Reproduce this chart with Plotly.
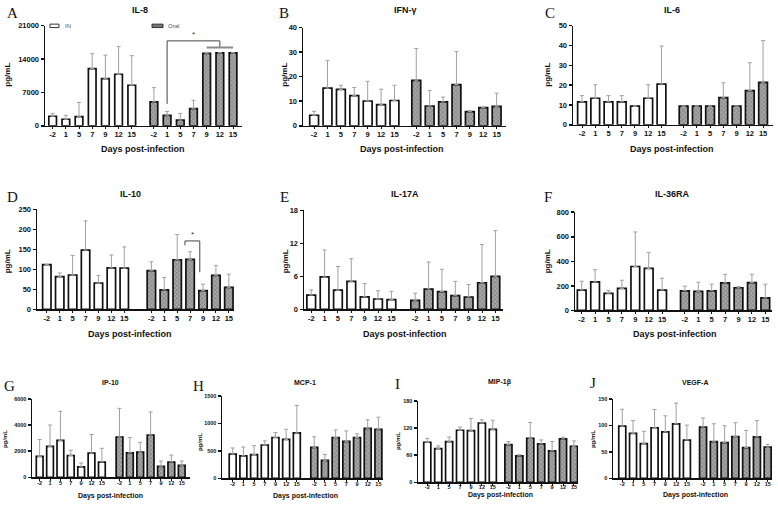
import plotly.graph_objects as go

W, H = 778, 506
days = ["-2", "1", "5", "7", "9", "12", "15"]

# ---- data (mean and SD) ----
il8_in = [2000, 1370, 1920, 12000, 9900, 10800, 8500]
il8_in_sd = [600, 830, 2980, 3100, 4900, 5800, 6200]
il8_oral = [5000, 2200, 1170, 3600, 15200, 15300, 15300]
il8_oral_sd = [3000, 800, 1430, 1750, 200, 0, 0]

ifng_in = [4.3, 15.3, 14.8, 12.3, 10.1, 8.6, 10.3]
ifng_in_sd = [1.6, 11.3, 1.7, 3.3, 8.0, 6.3, 6.2]
ifng_oral = [18.5, 8.05, 9.7, 16.8, 5.8, 7.4, 7.9]
ifng_oral_sd = [13.0, 6.35, 2.0, 13.4, 0.4, 0.25, 5.4]

il6_in = [11.6, 13.4, 11.6, 11.6, 9.4, 13.4, 20.5]
il6_in_sd = [3.1, 6.8, 3.1, 3.1, 0, 6.8, 19.2]
il6_oral = [9.4, 9.4, 9.4, 13.7, 9.4, 17.2, 21.4]
il6_oral_sd = [0, 0, 0, 7.5, 0, 14.1, 21.1]

il10_in = [112, 82, 86, 148, 66, 104, 103]
il10_in_sd = [0, 9, 49, 73, 19, 32, 53]
il10_oral = [97, 49, 124, 125, 47, 85, 55]
il10_oral_sd = [22, 31, 63, 19, 16, 25, 33]

il17a_in = [2.6, 5.9, 3.5, 5.1, 2.3, 1.9, 1.8]
il17a_in_sd = [0.95, 4.9, 4.3, 4.1, 2.4, 1.5, 1.5]
il17a_oral = [1.65, 3.7, 3.25, 2.5, 2.25, 4.85, 6.0]
il17a_oral_sd = [1.3, 4.9, 4.05, 2.6, 2.3, 6.95, 8.3]

il36ra_in = [166, 233, 139, 179, 358, 342, 166]
il36ra_in_sd = [72, 99, 24, 67, 281, 131, 96]
il36ra_oral = [160, 155, 160, 225, 185, 227, 102]
il36ra_oral_sd = [38, 75, 54, 69, 10, 67, 112]

ip10_in = [1600, 2375, 2825, 1675, 800, 1850, 1175]
ip10_in_sd = [1300, 1625, 2225, 400, 300, 1425, 1050]
ip10_oral = [3075, 1875, 1925, 3225, 850, 1175, 925]
ip10_oral_sd = [2200, 1175, 750, 1775, 400, 525, 325]

mcp1_in = [440, 410, 434, 607, 744, 708, 827]
mcp1_in_sd = [113, 161, 161, 77, 89, 185, 500]
mcp1_oral = [565, 327, 744, 673, 744, 911, 893]
mcp1_oral_sd = [191, 108, 137, 190, 66, 154, 220]

mip1b_in = [88.5, 74.6, 90, 115, 114, 131, 117]
mip1b_in_sd = [8.1, 5.9, 10, 7, 27, 7, 20]
mip1b_oral = [83.4, 58.5, 97.3, 85, 69.5, 95.8, 79.7]
mip1b_oral_sd = [6.6, 3, 34.7, 8.6, 20.5, 3.7, 11.7]

vegfa_in = [98.6, 85, 65.5, 95.5, 87.6, 103, 72.3]
vegfa_in_sd = [31.8, 24, 23.3, 34.5, 30.4, 39, 28.1]
vegfa_oral = [96.8, 69.2, 67.4, 79, 58.2, 78.4, 58.8]
vegfa_oral_sd = [17.2, 33.8, 31.8, 26, 32.4, 30.6, 5.5]

# ---- panel layout (pixel boxes: left, right, zero-y, top-y) ----
panels = [
    dict(letter="A", title="IL-8", vin=il8_in, ein=il8_in_sd, vor=il8_oral, eor=il8_oral_sd,
         ymax=21000, dtick=7000, box=(45, 242, 124, 22), pl=.58, pr=.68, gap=1.68, bw=.58, big=True,
         tpos=(140, 6), lpos=(12, 9), ypos=(8, 72), dpos=(143, 148)),
    dict(letter="B", title="IFN-γ", vin=ifng_in, ein=ifng_in_sd, vor=ifng_oral, eor=ifng_oral_sd,
         ymax=40, dtick=10, box=(303, 506, 124, 24), pl=.83, pr=.7, gap=1.63, bw=.66, big=True,
         tpos=(405, 6), lpos=(284, 9), ypos=(285, 72), dpos=(402, 148)),
    dict(letter="C", title="IL-6", vin=il6_in, ein=il6_in_sd, vor=il6_oral, eor=il6_oral_sd,
         ymax=50, dtick=10, box=(573, 773, 123, 22), pl=.68, pr=.75, gap=1.67, bw=.66, big=True,
         tpos=(672, 6), lpos=(550, 9), ypos=(548, 72), dpos=(672, 148)),
    dict(letter="D", title="IL-10", vin=il10_in, ein=il10_in_sd, vor=il10_oral, eor=il10_oral_sd,
         ymax=250, dtick=50, box=(37, 234, 311, 209), pl=.76, pr=.4, gap=2.1, bw=.65, big=True,
         tpos=(130, 193), lpos=(12, 196), ypos=(7, 262), dpos=(130, 336)),
    dict(letter="E", title="IL-17A", vin=il17a_in, ein=il17a_in_sd, vor=il17a_oral, eor=il17a_oral_sd,
         ymax=18, dtick=6, box=(304, 503, 311, 210), pl=.54, pr=.57, gap=1.78, bw=.65, big=True,
         tpos=(405, 193), lpos=(284, 197), ypos=(285, 262), dpos=(405, 336)),
    dict(letter="F", title="IL-36RA", vin=il36ra_in, ein=il36ra_in_sd, vor=il36ra_oral, eor=il36ra_oral_sd,
         ymax=800, dtick=200, box=(575, 772, 312, 212), pl=.5, pr=.5, gap=1.7, bw=.65, big=True,
         tpos=(672, 193), lpos=(548, 197), ypos=(547, 262), dpos=(675, 336)),
    dict(letter="G", title="IP-10", vin=ip10_in, ein=ip10_in_sd, vor=ip10_oral, eor=ip10_oral_sd,
         ymax=6000, dtick=2000, box=(32, 190, 482, 402), pl=.74, pr=.8, gap=1.7, bw=.65, big=False,
         tpos=(110, 385), lpos=(9, 389), ypos=(5, 443), dpos=(110, 501)),
    dict(letter="H", title="MCP-1", vin=mcp1_in, ein=mcp1_in_sd, vor=mcp1_oral, eor=mcp1_oral_sd,
         ymax=1500, dtick=500, box=(222, 383, 483, 399), pl=1.0, pr=.43, gap=1.63, bw=.65, big=False,
         tpos=(305, 385), lpos=(199, 389), ypos=(200, 446), dpos=(305, 501)),
    dict(letter="I", title="MIP-1β", vin=mip1b_in, ein=mip1b_in_sd, vor=mip1b_oral, eor=mip1b_oral_sd,
         ymax=180, dtick=60, box=(418, 578, 487, 404), pl=.85, pr=.37, gap=1.43, bw=.65, big=False,
         tpos=(500, 385), lpos=(397, 387), ypos=(398, 445), dpos=(500, 500)),
    dict(letter="J", title="VEGF-A", vin=vegfa_in, ein=vegfa_in_sd, vor=vegfa_oral, eor=vegfa_oral_sd,
         ymax=150, dtick=50, box=(613, 772, 483, 402), pl=.86, pr=.4, gap=1.5, bw=.65, big=False,
         tpos=(695, 385), lpos=(593, 386), ypos=(593, 443), dpos=(695, 500)),
]

SANS = "Liberation Sans, Arial, sans-serif"
SERIF = "Liberation Serif, Times New Roman, serif"

fig = go.Figure()
layout = {}
annotations = []
shapes = []


def px_x(px):
    return px / W


def px_y(py):
    return 1 - py / H


positions = {}
for i, p in enumerate(panels, start=1):
    sfx = "" if i == 1 else str(i)
    xa, ya = "x" + sfx, "y" + sfx
    pos_in = list(range(len(days)))
    pos_or = [len(days) - 1 + p["gap"] + k for k in range(len(days))]
    positions[p["letter"]] = (pos_in, pos_or)
    fig.add_trace(go.Bar(
        x=pos_in, y=p["vin"], width=p["bw"], xaxis=xa, yaxis=ya, showlegend=False,
        marker=dict(color="white", line=dict(color="#111", width=1.7)),
        error_y=dict(type="data", array=p["ein"], arrayminus=[0] * 7, symmetric=False,
                     color="#a0a0a0", thickness=1, width=2)))
    fig.add_trace(go.Bar(
        x=pos_or, y=p["vor"], width=p["bw"], xaxis=xa, yaxis=ya, showlegend=False,
        marker=dict(color="#9a9a9a", line=dict(color="#111", width=1.7),
                    pattern=dict(shape="x", fgcolor="#3a3a3a", bgcolor="#a6a6a6", size=3, solidity=0.3)),
        error_y=dict(type="data", array=p["eor"], arrayminus=[0] * 7, symmetric=False,
                     color="#a0a0a0", thickness=1, width=2)))

    L, R, z, t = p["box"]
    fs = 7.5 if p["big"] else 5.5
    layout["xaxis" + sfx] = dict(
        domain=[px_x(L), px_x(R)], range=[-p["pl"], 2 * (len(days) - 1) + p["gap"] + p["pr"]],
        anchor=ya, tickvals=pos_in + pos_or, ticktext=days * 2, showline=True, linecolor="#111",
        linewidth=1.5, ticks="outside", ticklen=2, tickwidth=1, tickcolor="#111",
        ticklabelstandoff=-1 if p["big"] else -3,
        tickfont=dict(family=SANS, size=fs, color="#111", weight="bold"),
        showgrid=False, zeroline=False, fixedrange=True)
    layout["yaxis" + sfx] = dict(
        domain=[px_y(z), px_y(t)], range=[0, p["ymax"]], anchor=xa, tickformat="d",
        tickvals=list(range(0, p["ymax"] + 1, p["dtick"])), showline=True, linecolor="#111",
        linewidth=1.5, ticks="outside", ticklen=3, tickwidth=1.5, tickcolor="#111",
        tickfont=dict(family=SANS, size=fs, color="#111", weight="bold"),
        showgrid=False, zeroline=False, fixedrange=True)

    tfs = 9 if p["big"] else 7
    afs = 8 if p["big"] else 6
    dfs = 9 if p["big"] else 7
    annotations.append(dict(text=p["title"], x=px_x(p["tpos"][0]), y=px_y(p["tpos"][1]), xref="paper",
                            yref="paper", showarrow=False, xanchor="center", yanchor="middle",
                            font=dict(family=SANS, size=tfs, color="#111", weight="bold")))
    annotations.append(dict(text=p["letter"], x=px_x(p["lpos"][0]), y=px_y(p["lpos"][1]), xref="paper",
                            yref="paper", showarrow=False, xanchor="center", yanchor="middle",
                            font=dict(family=SERIF, size=15, color="#111")))
    annotations.append(dict(text="pg/mL", x=px_x(p["ypos"][0]), y=px_y(p["ypos"][1]), xref="paper",
                            yref="paper", showarrow=False, xanchor="center", yanchor="middle",
                            textangle=-90, font=dict(family=SANS, size=afs, color="#111", weight="bold")))
    annotations.append(dict(text="Days post-infection", x=px_x(p["dpos"][0]), y=px_y(p["dpos"][1]),
                            xref="paper", yref="paper", showarrow=False, xanchor="center",
                            yanchor="middle", font=dict(family=SANS, size=dfs, color="#111", weight="bold")))

# ---- legend in panel A ----
shapes.append(dict(type="rect", xref="paper", yref="paper", x0=px_x(50), x1=px_x(59), y0=px_y(24),
                   y1=px_y(20.5), fillcolor="white", line=dict(color="#333", width=1)))
shapes.append(dict(type="rect", xref="paper", yref="paper", x0=px_x(152), x1=px_x(163), y0=px_y(24),
                   y1=px_y(20.5), fillcolor="#777", line=dict(color="#333", width=1)))
annotations.append(dict(text="IN", x=px_x(63), y=px_y(22.5), xref="paper", yref="paper", showarrow=False,
                        xanchor="left", yanchor="middle", font=dict(family=SANS, size=6, color="#555")))
annotations.append(dict(text="Oral", x=px_x(166), y=px_y(22.5), xref="paper", yref="paper", showarrow=False,
                        xanchor="left", yanchor="middle", font=dict(family=SANS, size=6, color="#555")))

# ---- significance brackets ----
# Panel A: oral day 1 vs oral days 9-15
a_or = positions["A"][1]
a_low, a_top, a_leg = 4600, 17800, 16400
for seg in [(a_or[1], a_low, a_or[1], a_top), (a_or[1], a_top, a_or[5], a_top), (a_or[5], a_top, a_or[5], a_leg)]:
    shapes.append(dict(type="line", xref="x", yref="y", x0=seg[0], y0=seg[1], x1=seg[2], y1=seg[3],
                       line=dict(color="#444", width=1)))
shapes.append(dict(type="line", xref="x", yref="y", x0=a_or[4], x1=a_or[6], y0=a_leg, y1=a_leg,
                   line=dict(color="#8a8a8a", width=2)))
annotations.append(dict(text="*", x=(a_or[1] + a_or[5]) / 2, y=a_top, xref="x", yref="y", showarrow=False,
                        xanchor="center", yanchor="bottom", font=dict(family=SANS, size=8, color="#333")))

# Panel D: oral day 7 vs oral day 9
d_or = positions["D"][1]
dl, dr = d_or[3] - 0.4, d_or[4] - 0.25
d_top, d_lb, d_rb = 171, 160, 93
for seg in [(dl, d_lb, dl, d_top), (dl, d_top, dr, d_top), (dr, d_top, dr, d_rb)]:
    shapes.append(dict(type="line", xref="x4", yref="y4", x0=seg[0], y0=seg[1], x1=seg[2], y1=seg[3],
                       line=dict(color="#444", width=1)))
annotations.append(dict(text="*", x=(dl + dr) / 2, y=d_top, xref="x4", yref="y4", showarrow=False,
                        xanchor="center", yanchor="bottom", font=dict(family=SANS, size=8, color="#333")))

fig.update_layout(
    width=W, height=H, margin=dict(l=0, r=0, t=0, b=0), plot_bgcolor="white", paper_bgcolor="white",
    barmode="overlay", annotations=annotations, shapes=shapes, showlegend=False, **layout)

fig.write_html("out.html", config={"displayModeBar": False, "staticPlot": True},
               post_script="document.body.style.margin='0';document.body.style.overflow='hidden';")
